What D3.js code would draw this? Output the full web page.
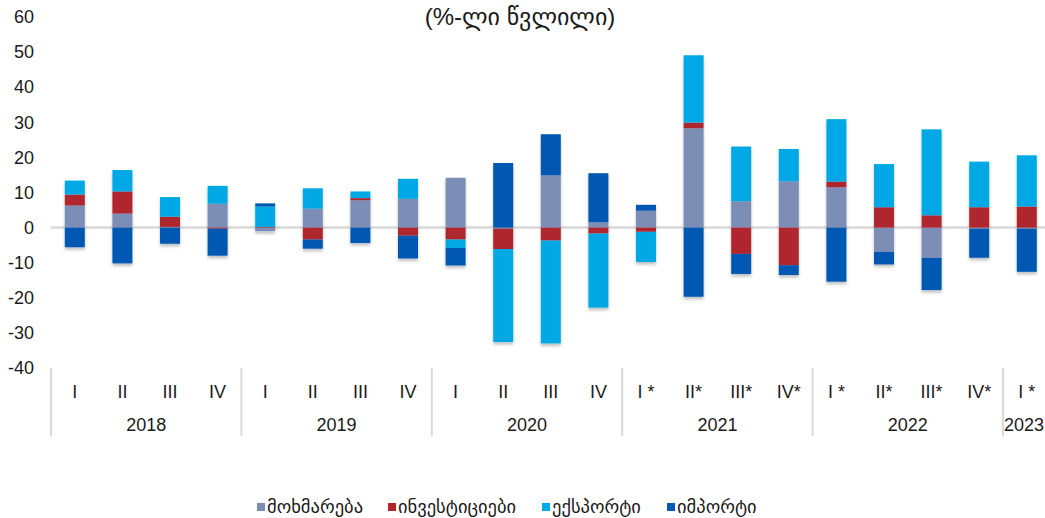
<!DOCTYPE html>
<html>
<head>
<meta charset="utf-8">
<script src="https://cdn.jsdelivr.net/npm/d3@7"></script>
<style>
  body { margin: 0; background: #fff; }
  text { font-family: Arial, 'Liberation Sans', 'DejaVu Sans', sans-serif; fill: #1a1a1a; }
</style>
</head>
<body>
<svg></svg>
<script>
// quarters and years along the x axis
var quarters = ['I','II','III','IV','I','II','III','IV','I','II','III','IV',
                'I *','II*','III*','IV*','I *','II*','III*','IV*','I *'];
var years = ['2018','2019','2020','2021','2022','2023'];

// contributions, percentage points
var consumption = [6.3, 4.0, 0.2, 6.8, -1.0, 5.4, 7.8, 8.2, 14.2, -0.3, 14.9, 1.5,
                   4.8, 28.3, 7.5, 13.2, 11.5, -6.9, -8.6, -0.3, -0.3];
var investment  = [3.1, 6.3, 2.9, -0.3, 0.2, -3.4, 0.6, -2.3, -3.4, -5.8, -3.7, -1.7,
                   -1.2, 1.6, -7.5, -10.7, 1.6, 5.8, 3.5, 5.8, 6.0];
var exports     = [4.0, 6.1, 5.6, 5.1, 5.8, 5.8, 1.9, 5.7, -2.4, -26.5, -29.3, -21.1,
                   -8.6, 19.2, 15.6, 9.2, 17.8, 12.3, 24.5, 13.0, 14.6];
var imports     = [-5.6, -10.2, -4.6, -7.7, 0.9, -2.6, -4.4, -6.5, -5.0, 18.4, 11.7, 14.0,
                   1.7, -19.7, -5.7, -2.8, -15.4, -3.6, -9.2, -8.3, -12.3];

var seriesNames = ['მოხმარება','ინვესტიციები','ექსპორტი','იმპორტი'];
var colors = ['#7b8db6','#b0282e','#02a9e5','#0558b3'];
var yTicks = [60,50,40,30,20,10,0,-10,-20,-30,-40];

var w = 1045, h = 518;

var rows = quarters.map(function(q, i){
  return {i: i, s0: consumption[i], s1: investment[i], s2: exports[i], s3: imports[i]};
});

var stack = d3.stack()
              .keys(['s0','s1','s2','s3'])
              .offset(d3.stackOffsetDiverging);
var stacked = stack(rows);

var x = d3.scaleBand()
          .domain(d3.range(quarters.length))
          .range([51, 51 + quarters.length * 47.6])
          .paddingInner(0.58)
          .paddingOuter(0.29);

var y = d3.scaleLinear()
          .domain([-40, 60])
          .range([368, 17]);

var svg = d3.select('svg')
            .attr('width', w)
            .attr('height', h);

var defs = svg.append('defs');
var f = defs.append('filter').attr('id','shadow')
            .attr('x','-30%').attr('y','-10%').attr('width','160%').attr('height','130%');
f.append('feDropShadow')
 .attr('dx',0).attr('dy',2.5).attr('stdDeviation',1.8)
 .attr('flood-color','#000').attr('flood-opacity',0.25);

// title
svg.append('text')
   .attr('x', 520).attr('y', 25)
   .attr('text-anchor','middle')
   .style('font-size','24px')
   .text('(%-ლი წვლილი)');

// y labels
var yAxis = svg.append('g')
               .attr('transform','translate(36,0)')
               .call(d3.axisLeft(y).tickValues(yTicks).tickSize(0).tickPadding(2)
                       .tickFormat(function(d){ return String(d); }));
yAxis.select('.domain').remove();
yAxis.selectAll('text')
     .style('font-size','18px')
     .style('font-family','Arial, "Liberation Sans", sans-serif')
     .attr('fill','#1a1a1a');

// zero line
svg.append('line')
   .attr('x1', 51).attr('x2', w)
   .attr('y1', y(0)).attr('y2', y(0))
   .attr('stroke','#d9d9d9').attr('stroke-width',2.5);

// bars
var bars = svg.append('g').attr('filter','url(#shadow)');
bars.selectAll('g')
    .data(stacked)
    .enter()
    .append('g')
    .attr('fill', function(d, k){ return colors[k]; })
    .selectAll('rect')
    .data(function(d){ return d; })
    .enter()
    .append('rect')
    .attr('x', function(d){ return x(d.data.i); })
    .attr('width', x.bandwidth())
    .attr('y', function(d){ return y(Math.max(d[0], d[1])); })
    .attr('height', function(d){ return Math.abs(y(d[0]) - y(d[1])); });

// x axis: quarter labels, year labels, separators
var half = (x.step() - x.bandwidth()) / 2;
svg.append('g')
   .selectAll('text')
   .data(quarters)
   .enter()
   .append('text')
   .attr('x', function(d, i){ return x(i) + x.bandwidth()/2; })
   .attr('y', 398)
   .attr('text-anchor','middle')
   .style('font-size','18px')
   .text(function(d){ return d; });

svg.append('g')
   .selectAll('text')
   .data(years)
   .enter()
   .append('text')
   .attr('x', function(d, k){
     var first = k * 4;
     var last = first + 3;
     if (last >= quarters.length) return x(first) - half + 1;
     return (x(first) + x(last) + x.bandwidth()) / 2;
   })
   .attr('y', 431)
   .attr('text-anchor', function(d, k){ return k * 4 + 3 >= quarters.length ? 'start' : 'middle'; })
   .style('font-size','18px')
   .text(function(d){ return d; });

var seps = d3.range(0, quarters.length, 4);
svg.append('g')
   .selectAll('line')
   .data(seps)
   .enter()
   .append('line')
   .attr('x1', function(d){ return x(d) - half; })
   .attr('x2', function(d){ return x(d) - half; })
   .attr('y1', 368).attr('y2', 436)
   .attr('stroke','#d9d9d9').attr('stroke-width',2);

// legend
var legendX = [257, 388, 542, 667];
var legend = svg.append('g')
                .selectAll('g')
                .data(seriesNames)
                .enter()
                .append('g')
                .attr('transform', function(d, k){ return 'translate(' + legendX[k] + ',503)'; });
legend.append('rect')
      .attr('width', 8).attr('height', 8)
      .attr('fill', function(d, k){ return colors[k]; });
legend.append('text')
      .attr('x', 10).attr('y', 10)
      .style('font-size','18.5px')
      .text(function(d){ return d; });
</script>
</body>
</html>
